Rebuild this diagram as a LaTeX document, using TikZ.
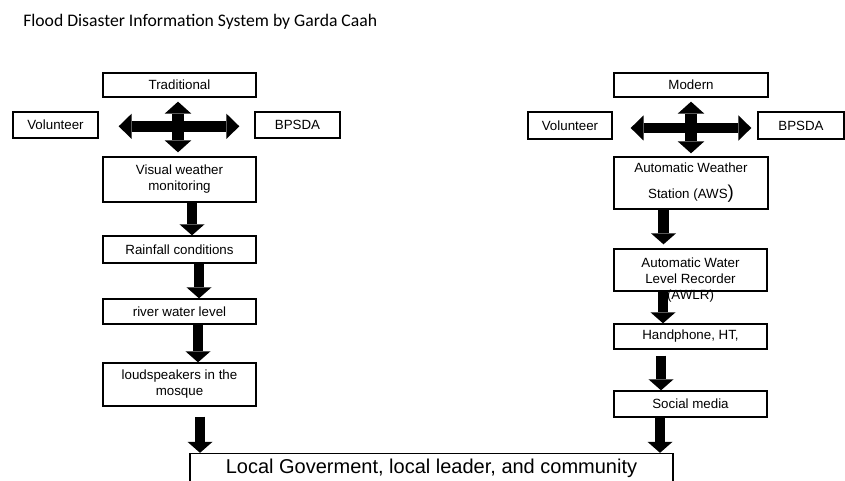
\documentclass[tikz,border=0pt]{standalone}
\usepackage{fontspec}
\setmainfont{Liberation Sans}
\newfontfamily\titlefont{Carlito}
\usetikzlibrary{arrows.meta}
\begin{document}
\begin{tikzpicture}[x=0.75pt,y=-0.75pt,
  box/.style={draw=black, line width=1pt, inner sep=0pt, align=center,
    font=\fontsize{10}{12}\selectfont},
  txt/.style={inner sep=0pt, align=center, font=\fontsize{10}{12}\selectfont},
  blk/.style={line width=7.75pt,
    -{Triangle[width=18.75pt,length=8.25pt,line width=0pt]}},
  quadh/.style={line width=8pt,
    {Triangle[width=19pt,length=9.75pt,line width=0pt]}-{Triangle[width=19pt,length=9.75pt,line width=0pt]}},
  quadv/.style={line width=9pt,
    {Triangle[width=20pt,length=9pt,line width=0pt]}-{Triangle[width=20pt,length=9pt,line width=0pt]}},
]
\useasboundingbox (0,0) rectangle (845,481);

% title
\node[anchor=base west, inner sep=0pt, font=\titlefont\fontsize{13.25}{15}\selectfont]
  (title) at (23,27) {Flood Disaster Information System by Garda Caah};

% left column
\node[box, minimum width=114.75pt, minimum height=18pt] (trad) at (179.5,85) {Traditional};
\node[box, minimum width=63.75pt, minimum height=19.5pt] (lvol) at (55.5,125) {Volunteer};
\node[box, minimum width=63.75pt, minimum height=19.5pt] (lbps) at (297.5,125) {BPSDA};
\node[box, minimum width=114.75pt, minimum height=33.75pt] (visual) at (179.5,179.5) {Visual weather\\monitoring};
\node[box, minimum width=114.75pt, minimum height=20.25pt] (rain) at (179.5,249.5) {Rainfall conditions};
\node[box, minimum width=114.75pt, minimum height=18.75pt] (river) at (179.5,311.5) {river water level};
\node[box, minimum width=114.75pt, minimum height=32.25pt] (loud) at (179.5,384.5) {loudspeakers in the\\mosque};

% right column
\node[box, minimum width=115.5pt, minimum height=18pt] (modern) at (691,85) {Modern};
\node[box, minimum width=63pt, minimum height=20.25pt] (rvol) at (570,125.5) {Volunteer};
\node[box, minimum width=64.5pt, minimum height=20.25pt] (rbps) at (801,125.5) {BPSDA};
\node[box, minimum width=115.5pt, minimum height=39pt] (aws) at (691,183)
  {Automatic Weather\\[7.5pt]Station (AWS{\fontsize{14}{14}\selectfont)}};
\node[box, minimum width=114.75pt, minimum height=31.5pt] (awlr) at (690.5,270) {};
\node[box, minimum width=114.75pt, minimum height=18.75pt] (hand) at (690.5,336.5) {Handphone, HT,};
\node[box, minimum width=114.75pt, minimum height=19.5pt] (social) at (690.5,404) {Social media};

% bottom
\node[box, minimum width=362.25pt, minimum height=22.5pt, font=\fontsize{15}{18}\selectfont]
  (bot) at (431.5,468.5) {Local Goverment, local leader, and community};

% four-way arrows
\coordinate (lq) at (178,126.3);
\coordinate (rq) at (691,128);
\draw[quadh, shorten <=15pt, shorten >=11.25pt] (lq -| lvol.east) -- (lq -| lbps.west);
\draw[quadv, shorten <=3pt, shorten >=3pt] (trad.south -| lq) -- (visual.north -| lq);
\draw[quadh, shorten <=13.5pt, shorten >=4.5pt] (rq -| rvol.east) -- (rq -| rbps.west);
\draw[quadv, shorten <=3pt, shorten >=2.25pt] (modern.south) -- (aws.north);

% left arrows
\coordinate (a1) at (192,0);
\coordinate (a2) at (199,0);
\coordinate (a3) at (198,0);
\coordinate (a4) at (200,0);
\draw[blk] (visual.south -| a1) -- (rain.north -| a1);
\draw[blk] (rain.south -| a2) -- (river.north -| a2);
\draw[blk] (river.south -| a3) -- (loud.north -| a3);
\draw[blk, shorten <=7.5pt] (loud.south -| a4) -- (bot.north -| a4);

% right arrows
\coordinate (b1) at (663.5,0);
\coordinate (b2) at (663,0);
\coordinate (b3) at (661,0);
\coordinate (b4) at (660,0);
\draw[blk, shorten >=3pt] (aws.south -| b1) -- (awlr.north -| b1);
\draw[blk] (awlr.south -| b2) -- (hand.north -| b2);
\draw[blk, shorten <=4.5pt] (hand.south -| b3) -- (social.north -| b3);
\draw[blk] (social.south -| b4) -- (bot.north -| b4);

% AWLR text (overflows its box)
\node[txt] (awlrtext) at (690.5,280.5) {Automatic Water\\Level Recorder\\(AWLR)};
\end{tikzpicture}
\end{document}
